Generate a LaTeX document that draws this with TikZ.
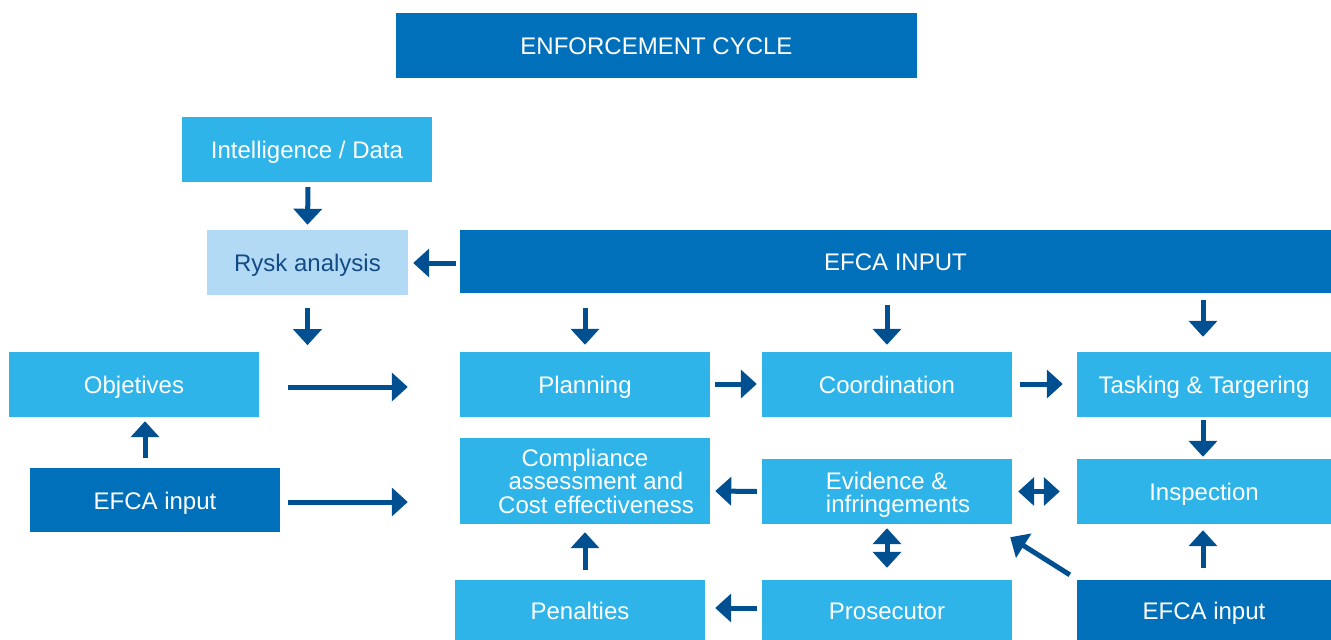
\documentclass[tikz,border=0pt]{standalone}
\usepackage{fontspec}
\setmainfont{Liberation Sans}
\usetikzlibrary{arrows.meta}
\definecolor{dkblue}{RGB}{0,112,186}
\definecolor{ltblue}{RGB}{46,180,232}
\definecolor{paleblue}{RGB}{179,218,244}
\definecolor{arrowblue}{RGB}{0,80,145}
\definecolor{paletext}{RGB}{20,75,135}
\tikzset{
  box/.style={fill=ltblue, text=white, inner sep=0pt, font=\fontsize{24}{24}\selectfont, text height=18pt, text depth=0pt},
  dbox/.style={box, fill=dkblue},
  pbox/.style={box, fill=paleblue, text=paletext},
  tip/.tip={Triangle[width=28pt,length=16pt]},
  arr/.style={draw=arrowblue, line width=5pt, -tip},
  darr/.style={draw=arrowblue, line width=5pt, tip-tip},
}
\newcommand{\bx}[8][]{\node[#2, minimum width=#5pt-#3pt, minimum height=#6pt-#4pt, #1] (#7) at ({(#3+#5)/2},{(#4+#6)/2}) {#8};}
\begin{document}
\begin{tikzpicture}[x=1pt,y=-1pt]
\useasboundingbox (0,0) rectangle (1331,640);
\bx{dbox}{396}{13}{917}{78}{title}{ENFORCEMENT CYCLE}
\bx{box}{182}{117}{432}{182}{intel}{Intelligence / Data}
\bx{pbox}{207}{230}{408}{295}{rysk}{Rysk analysis}
\bx{dbox}{460}{230}{1331}{293}{efca}{EFCA INPUT}
\bx{box}{9}{352}{259}{417}{obj}{Objetives}
\bx{box}{460}{352}{710}{417}{plan}{Planning}
\bx{box}{762}{352}{1012}{417}{coord}{Coordination}
\bx{box}{1077}{352}{1331}{417}{task}{Tasking \& Targering}
\bx{dbox}{30}{468}{280}{532}{efcal}{EFCA input}
\bx[text height=64pt]{box}{460}{438}{710}{524}{comp}{\vbox{\baselineskip=23.5pt
  \hbox to 216pt{\hss Compliance\hss}
  \hbox to 216pt{\hss\hspace*{22pt}assessment and\hss}
  \hbox to 216pt{\hss\hspace*{22pt}Cost effectiveness\hss}}}
\bx[text height=42pt]{box}{762}{459}{1012}{524}{evid}{\vbox{\baselineskip=23.5pt
  \hbox{\hspace*{22pt}Evidence \&}
  \hbox{\hspace*{22pt}infringements}}}
\bx{box}{1077}{459}{1331}{524}{insp}{Inspection}
\bx{box}{455}{580}{705}{640}{pen}{Penalties}
\bx{box}{762}{580}{1012}{640}{pros}{Prosecutor}
\bx{dbox}{1077}{580}{1331}{640}{efcab}{EFCA input}
% arrows
\draw[arr] ([xshift=1pt,yshift=-5pt]intel.south) -- ([yshift=5pt]rysk.north);
\draw[arr] ([xshift=-4pt,yshift=-1.5pt]efca.west) -- ([xshift=5pt,yshift=-0.5pt]rysk.east);
\draw[arr] ([yshift=-13pt]rysk.south) -- ++(0,37);
\draw[arr] ([yshift=44pt]plan.north) -- ([yshift=7pt]plan.north);
\draw[arr] ([yshift=47pt]coord.north) -- ([yshift=7pt]coord.north);
\draw[arr] ([xshift=-1pt,yshift=52pt]task.north) -- ([xshift=-1pt,yshift=15pt]task.north);
\draw[arr] ([xshift=29pt,yshift=-2.5pt]obj.east) -- ([xshift=-52pt,yshift=-2.5pt]plan.west);
\draw[arr] ([xshift=5pt,yshift=0.5pt]plan.east) -- ([xshift=-5pt,yshift=0.5pt]coord.west);
\draw[arr] ([xshift=8pt,yshift=0.5pt]coord.east) -- ([xshift=-14pt,yshift=0.5pt]task.west);
\draw[arr] ([xshift=-1pt,yshift=-3pt]task.south) -- ([xshift=-1pt,yshift=2pt]insp.north);
\draw[arr] ([xshift=-10pt,yshift=10pt]efcal.north) -- ([xshift=11pt,yshift=-4pt]obj.south);
\draw[arr] ([xshift=8pt,yshift=-2pt]efcal.east) -- ([xshift=-52pt,yshift=-21pt]comp.west);
\draw[arr] ([xshift=-5pt]evid.west) -- ([xshift=5pt,yshift=-10pt]comp.east);
\draw[darr] ([xshift=6pt]evid.east) -- ([xshift=-17pt]insp.west);
\draw[darr] ([yshift=-4pt]evid.south) -- ([yshift=12pt]pros.north);
\draw[arr] ([xshift=-7pt,yshift=5pt]efcab.north west) -- ([xshift=-2pt,yshift=-13pt]evid.south east);
\draw[arr] ([xshift=-1pt,yshift=12pt]efcab.north) -- ([xshift=-1pt,yshift=-6pt]insp.south);
\draw[arr] ([xshift=5pt,yshift=10pt]pen.north) -- ([yshift=-8pt]comp.south);
\draw[arr] ([xshift=-5pt,yshift=2pt]pros.west) -- ([xshift=10pt,yshift=2pt]pen.east);
\end{tikzpicture}
\end{document}
